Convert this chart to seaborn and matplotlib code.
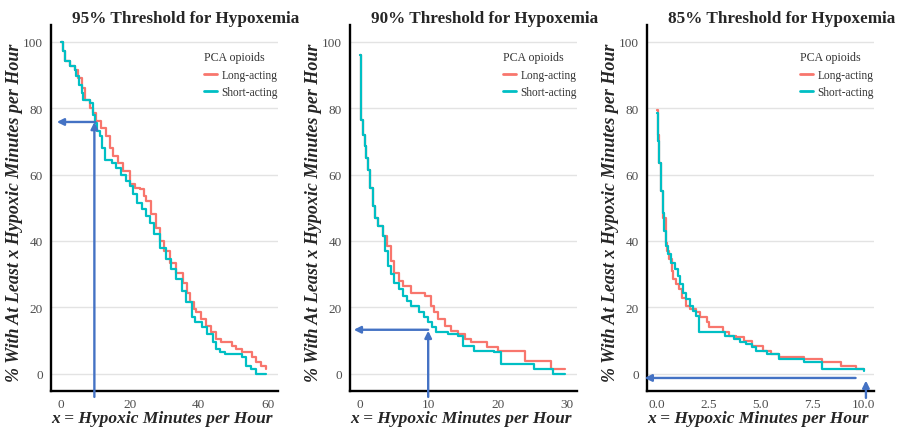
import numpy as np
import pandas as pd
import matplotlib
matplotlib.use("Agg")
import matplotlib.pyplot as plt
import seaborn as sns

# ---------------- data ----------------
titles = ["95% Threshold for Hypoxemia", "90% Threshold for Hypoxemia", "85% Threshold for Hypoxemia"]
groups = ["Long-acting", "Short-acting"]

p95_long_x = [0, 0.5, 1.2, 2.6, 4, 5, 6, 7, 8.4, 9.4, 10.3, 11.5, 13.2, 14.2, 15.2, 16.5, 18, 20, 21.5, 22.9,
              24, 24.8, 26, 27.5, 28.7, 30, 31.6, 33.5, 35.5, 36.5, 37.4, 38.5, 39.3, 40.5, 42.2, 43.5, 45.1,
              46.5, 48, 49.5, 50.9, 52.5, 55.5, 56.7, 58, 59.6]
p95_long_y = [100, 97, 94, 92.5, 91.5, 89, 86, 82.5, 80, 78.5, 76, 74, 71.5, 68, 65.5, 63.5, 61, 57, 56, 55.5,
              53.5, 52, 48, 44, 40, 37, 33.5, 30.5, 27.5, 24.5, 21.5, 19.5, 18.5, 16.5, 14.5, 12.5, 10.5,
              9.5, 9.5, 8.5, 7.5, 6.5, 5, 3.5, 2.5, 1.5]
p95_short_x = [0, 0.5, 1.2, 2.6, 4, 4.5, 5.2, 6, 6.5, 8.4, 9.4, 9.8, 10.5, 11.3, 12, 12.8, 14.7, 16, 17.5, 19,
               20, 21, 22, 23.5, 24.8, 25.8, 27, 28.7, 30.6, 32, 33.5, 35, 36.4, 37.9, 39, 41, 42.5, 44, 45,
               46, 47.5, 52.4, 53.8, 55, 56.7, 59.6]
p95_short_y = [100, 97, 94, 92.5, 91.5, 89.5, 87, 84.5, 82.5, 81.5, 78, 75.5, 73, 71.5, 68, 64.5, 63.5, 62, 60,
               58, 56.5, 54, 51.5, 49.5, 47.5, 45.5, 42, 38, 34.5, 31.5, 28.5, 25, 21.5, 17, 15.5, 14, 12,
               9.5, 7.5, 6.5, 6, 5, 2.5, 1.5, 0, 0]

p90_long_x = [0, 0.1, 0.2, 0.4, 0.7, 0.9, 1.2, 1.5, 1.9, 2.2, 2.6, 3.3, 3.9, 4.5, 5.0, 5.6, 6.2, 7.4, 9.4, 10.3,
              10.8, 11.3, 12.3, 13.2, 14.2, 15.2, 16.1, 18.5, 20, 23.9, 27.7, 29.7]
p90_long_y = [96, 85, 76.5, 72, 68.5, 65, 61.5, 56, 50.5, 47, 44.5, 41.5, 38.5, 34, 30.5, 28, 26.5, 24.5, 23.5,
              20.5, 18.5, 16.5, 14.5, 13, 12, 10.5, 9.5, 8, 7, 4, 1.5, 1.5]
p90_short_x = [0, 0.1, 0.2, 0.4, 0.7, 0.9, 1.2, 1.5, 1.9, 2.2, 2.6, 3.3, 3.6, 4.1, 4.5, 5.0, 5.6, 6.2, 6.8, 7.4,
               8.6, 9.3, 9.9, 10.5, 11.1, 12.8, 14.2, 14.9, 16.6, 19.5, 20.5, 25.3, 28, 29.7]
p90_short_y = [96, 85, 76.5, 72, 68.5, 65, 61.5, 56, 50.5, 47, 44.5, 41.5, 37, 32.5, 30, 27.5, 25.5, 23.5, 22,
               20.5, 18.5, 17, 15.5, 14, 12.5, 12, 11.5, 8.5, 7, 6.5, 3, 1.5, 0, 0]

p85_long_x = [0, 0.05, 0.11, 0.2, 0.3, 0.44, 0.5, 0.6, 0.7, 0.76, 0.9, 1.08, 1.2, 1.4, 1.6, 1.9, 2.1, 2.4, 2.5,
              3.2, 3.5, 3.8, 4.2, 4.6, 5.1, 5.5, 5.9, 7.1, 8.0, 8.9, 9.6, 10]
p85_long_y = [79.5, 72, 63.5, 55, 47, 39.5, 37, 34.5, 31, 28.5, 27, 25.5, 23, 20.5, 19.5, 18.5, 17, 15.5, 14,
              12.5, 11.5, 11, 10, 8.5, 7, 6, 5, 4.5, 3.5, 2.5, 1.5, 1.5]
p85_short_x = [0, 0.05, 0.11, 0.2, 0.28, 0.36, 0.44, 0.55, 0.68, 0.85, 1.0, 1.1, 1.25, 1.4, 1.57, 1.75, 1.9,
               2.05, 3.3, 3.7, 4.0, 4.3, 4.6, 4.8, 5.3, 5.9, 7.1, 8.0, 9.9, 10]
p85_short_y = [78.5, 70, 63.5, 55, 48.5, 43, 38.5, 36, 33.5, 31.5, 29.5, 27, 24.5, 22.5, 20.5, 19, 17.5,
               12.5, 11.5, 10.5, 9.5, 9, 8, 7, 6, 4.5, 3.5, 1.5, 1.5, 1]

x_ticks = [[0, 20, 40, 60], [0, 10, 20, 30], [0, 2.5, 5, 7.5, 10]]
x_ticklabels = [["0", "20", "40", "60"], ["0", "10", "20", "30"], ["0.0", "2.5", "5.0", "7.5", "10.0"]]
y_ticks = [0, 20, 40, 60, 80, 100]

# annotation arrows (data coords): vertical (x, y0 -> y1), horizontal (y, x0 -> x1)
arrows_v = [(9.7, -6.9, 75.8), (9.9, -6.9, 13.0), (10.1, -7.2, -2.0)]
arrows_h = [(75.8, 10, -1.2), (13.3, 9.9, -0.9), (-1.2, 9.6, -0.6)]

panels = [
    (p95_long_x, p95_long_y, p95_short_x, p95_short_y, 60),
    (p90_long_x, p90_long_y, p90_short_x, p90_short_y, 30),
    (p85_long_x, p85_long_y, p85_short_x, p85_short_y, 10),
]

# ---------------- style ----------------
sns.set_style("white")
plt.rcParams["font.family"] = ["Liberation Serif", "DejaVu Serif"]
palette = {"Long-acting": "#F8766D", "Short-acting": "#00BFC4"}
arrow_col = "#4472C4"

fig = plt.figure(figsize=(8.99, 4.35), dpi=100)
lefts = [50.6 / 899, 349.6 / 899, 646.7 / 899]
bottom = 1 - 391.6 / 435
height = (391.6 - 25.9) / 435
width = 227.5 / 899

for i, (lx, ly, sx, sy, xmax) in enumerate(panels):
    ax = fig.add_axes([lefts[i], bottom, width, height])
    df = pd.concat([
        pd.DataFrame({"x": lx, "pct": ly, "group": groups[0]}),
        pd.DataFrame({"x": sx, "pct": sy, "group": groups[1]}),
    ], ignore_index=True)
    sns.lineplot(data=df, x="x", y="pct", hue="group", palette=palette, estimator=None,
                 sort=False, drawstyle="steps-post", linewidth=1.6, ax=ax)
    pad = xmax * 0.05
    ax.set_xlim(-pad, xmax + pad)
    ax.set_ylim(-5, 105)
    ax.set_xticks(x_ticks[i])
    ax.set_xticklabels(x_ticklabels[i])
    ax.set_yticks(y_ticks)
    ax.yaxis.grid(True, color="#E3E3E3", lw=1.0)
    ax.xaxis.grid(False)
    ax.set_axisbelow(True)
    for s in ["top", "right"]:
        ax.spines[s].set_visible(False)
    for s in ["left", "bottom"]:
        ax.spines[s].set_color("black")
        ax.spines[s].set_linewidth(1.7)
    ax.tick_params(axis="both", length=2.5, width=0.8, color="#333333", pad=3,
                   labelsize=9.5, labelcolor="#4D4D4D")
    ax.set_xlabel("x = Hypoxic Minutes per Hour", fontsize=12.5, fontweight="bold", style="italic")
    ax.set_ylabel("% With At Least x Hypoxic Minutes per Hour", fontsize=13.0, fontweight="bold",
                  style="italic")
    ax.xaxis.set_label_coords(0.49, -0.052)
    ax.yaxis.set_label_coords(-0.12, 0.49)
    ax.xaxis.label.set_va("top")
    ax.text(0.595, 1.008, titles[i], transform=ax.transAxes, ha="center", va="baseline",
            fontsize=12.3, fontweight="bold")
    leg = ax.legend(title="PCA opioids", loc="upper left", bbox_to_anchor=(0.655, 0.94),
                    frameon=False, fontsize=8.3, title_fontsize=8.6, handlelength=1.1,
                    handletextpad=0.4, labelspacing=0.45, borderaxespad=0)
    leg._legend_box.align = "left"
    leg._legend_box.sep = 4
    leg.get_title().set_color("#333333")
    for line in leg.get_lines():
        line.set_linewidth(2.0)
    for t in leg.get_texts():
        t.set_color("#333333")

    xv, y0, y1 = arrows_v[i]
    ax.annotate("", xy=(xv, y1), xytext=(xv, y0), annotation_clip=False,
                arrowprops=dict(arrowstyle="-|>", color=arrow_col, lw=1.7, mutation_scale=10,
                                shrinkA=0, shrinkB=0))
    yh, x0, x1 = arrows_h[i]
    ax.annotate("", xy=(x1, yh), xytext=(x0, yh), annotation_clip=False,
                arrowprops=dict(arrowstyle="-|>", color=arrow_col, lw=1.7, mutation_scale=10,
                                shrinkA=0, shrinkB=0))

fig.savefig("out.png", dpi=100)
